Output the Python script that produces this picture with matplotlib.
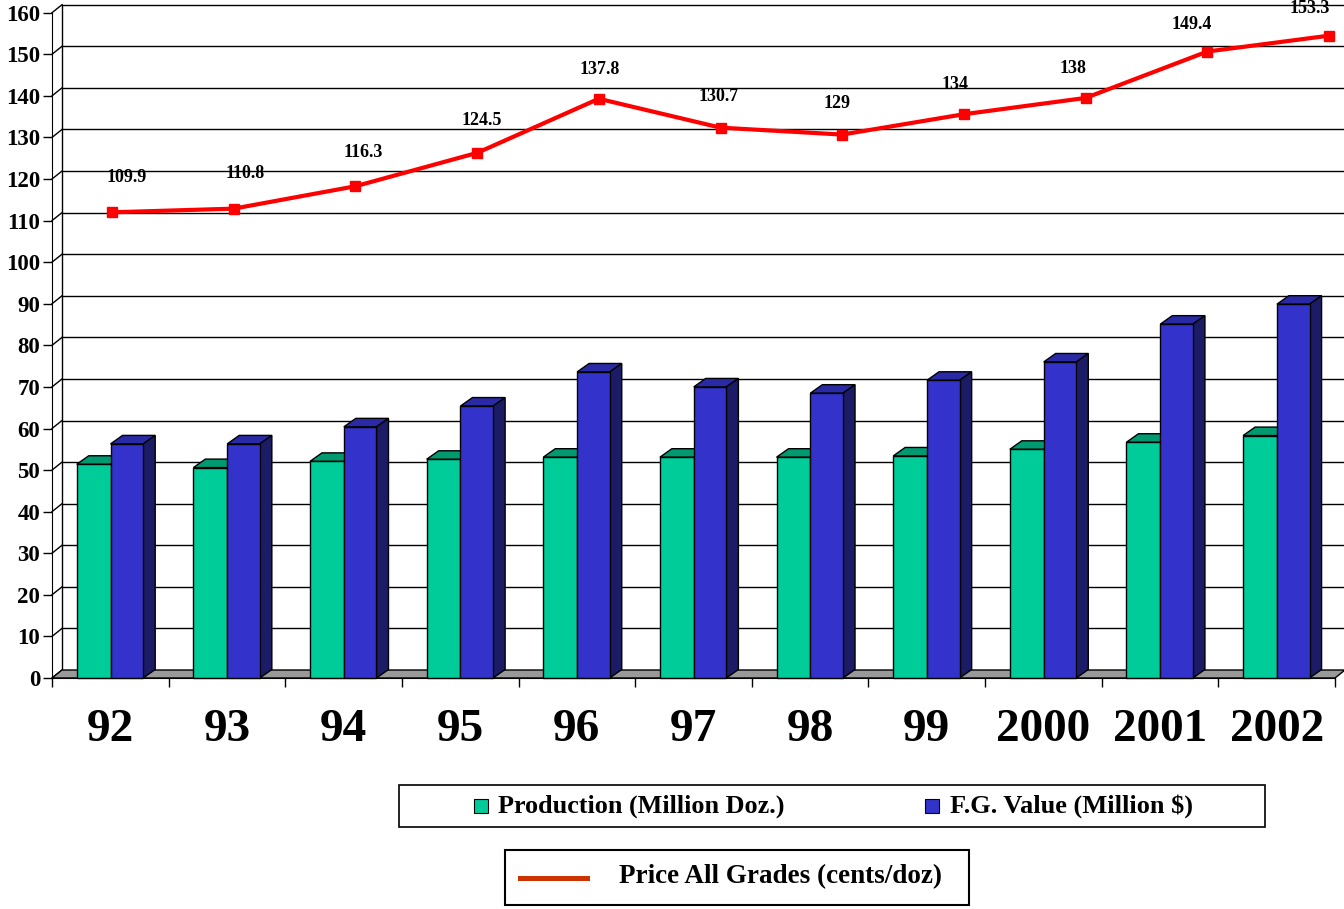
import matplotlib
matplotlib.use('Agg')
import matplotlib.pyplot as plt
from matplotlib.patches import Polygon, Rectangle
from matplotlib.lines import Line2D

years = ['92', '93', '94', '95', '96', '97', '98', '99', '2000', '2001', '2002']
production = [51.4, 50.6, 52.1, 52.6, 53.1, 53.1, 53.1, 53.4, 55.0, 56.7, 58.3]
fg_value = [56.3, 56.3, 60.4, 65.4, 73.6, 70.0, 68.5, 71.6, 76.0, 85.1, 89.9]
price = [109.9, 110.8, 116.3, 124.5, 137.8, 130.7, 129, 134, 138, 149.4, 153.3]
yticks = list(range(0, 161, 10))

W, H = 1344, 909
FONT = 'Liberation Serif'

fig = plt.figure(figsize=(W / 100, H / 100), dpi=100)

# front plane of the pseudo 3d chart
ax = fig.add_axes([52 / W, 1 - 678 / H, 1283 / W, 665.3 / H])
ax.set_xlim(-0.5, 10.5)
ax.set_ylim(0, 160)
pxx = 116.6   # px per category
pxy = 4.158   # px per y unit

# depth offsets (wall / bars) in data units
WDX, WDY = 10 / pxx, 8 / pxy
BDX, BDY = 12 / pxx, 8.5 / pxy

# floor
floor = Polygon([(-0.5, 0), (10.5, 0), (10.5 + WDX, WDY), (-0.5 + WDX, WDY)],
                closed=True, facecolor='#999999', edgecolor='black', lw=1,
                clip_on=False, zorder=1)
ax.add_patch(floor)

# back wall gridlines and connectors
for v in yticks:
    if v > 0:
        ax.plot([-0.5 + WDX, 10.5 + WDX + 0.2], [v + WDY, v + WDY], color='black',
                lw=1, clip_on=False, zorder=0.5)
    ax.plot([-0.5, -0.5 + WDX], [v, v + WDY], color='black', lw=1,
            clip_on=False, zorder=0.5)
ax.plot([-0.5 + WDX, -0.5 + WDX], [WDY, 160 + WDY], color='black', lw=1,
        clip_on=False, zorder=0.5)


def bar3d(xc, width, val, face, top, side):
    x0, x1 = xc - width / 2, xc + width / 2
    ax.add_patch(Rectangle((x0, 0), width, val, facecolor=face, edgecolor='black',
                           lw=1, zorder=3, clip_on=False))
    ax.add_patch(Polygon([(x0, val), (x1, val), (x1 + BDX, val + BDY), (x0 + BDX, val + BDY)],
                         closed=True, facecolor=top, edgecolor='black', lw=1,
                         zorder=2, clip_on=False))
    ax.add_patch(Polygon([(x1, 0), (x1 + BDX, BDY), (x1 + BDX, val + BDY), (x1, val)],
                         closed=True, facecolor=side, edgecolor='black', lw=1,
                         zorder=2, clip_on=False))


for i in range(len(years)):
    bar3d(i - 0.143, 0.29, production[i], '#00CC99', '#009970', '#007F5E')
    bar3d(i + 0.142, 0.28, fg_value[i], '#3333CC', '#2A2AA6', '#1C1C66')
    # later bars drawn on top
    for p in ax.patches[-6:]:
        p.set_zorder(p.get_zorder() + i * 0.01)

for s in ['top', 'right']:
    ax.spines[s].set_visible(False)
ax.spines['left'].set_zorder(4)
ax.spines['bottom'].set_zorder(4)
ax.set_facecolor('none')

ax.set_yticks(yticks)
ax.set_yticklabels([str(v) for v in yticks], fontfamily=FONT, fontweight='bold', fontsize=16.5)
ax.tick_params(axis='y', length=6.5, width=1, pad=2)

ax.set_xticks(range(len(years)))
ax.set_xticklabels(years, fontfamily=FONT, fontweight='bold', fontsize=34)
ax.set_xticks([i - 0.5 for i in range(len(years) + 1)], minor=True)
ax.tick_params(axis='x', which='major', length=0, pad=22)
ax.tick_params(axis='x', which='minor', length=6.5, width=1)

# line overlay
ax2 = fig.add_axes([51.15 / W, 1 - 659.6 / H, 1338.7 / W, 651.2 / H])
ax2.set_xlim(-0.5, 10.5)
ax2.set_ylim(0, 160)
ax2.axis('off')
ax2.plot(range(len(price)), price, color='#FF0000', lw=3, marker='s', markersize=6.5,
         clip_on=False)
for i, v in enumerate(price):
    dy = max(35 - (v - price[0]) * 0.2, 27)
    ax2.annotate(f'{v:g}', (i, v), xytext=(15 - 3.4 * i, dy), textcoords='offset pixels',
                 ha='center', va='center', fontfamily=FONT, fontweight='bold',
                 fontsize=13, annotation_clip=False)


def fx(px):
    return px / W


def fy(py):
    return 1 - py / H


# legend boxes
fig.patches.append(Rectangle((fx(399), fy(827)), fx(866), 42 / H, transform=fig.transFigure,
                             facecolor='white', edgecolor='black', lw=1.2))
fig.patches.append(Rectangle((fx(474), fy(813)), 14 / W, 14 / H, transform=fig.transFigure,
                             facecolor='#00CC99', edgecolor='black', lw=0.8))
fig.text(fx(498), fy(806), 'Production (Million Doz.)', ha='left', va='center',
         fontfamily=FONT, fontweight='bold', fontsize=18.8)
fig.patches.append(Rectangle((fx(925), fy(813)), 14 / W, 14 / H, transform=fig.transFigure,
                             facecolor='#3333CC', edgecolor='black', lw=0.8))
fig.text(fx(950), fy(806), 'F.G. Value (Million $)', ha='left', va='center',
         fontfamily=FONT, fontweight='bold', fontsize=19)

fig.patches.append(Rectangle((fx(505), fy(905)), fx(464), 55 / H, transform=fig.transFigure,
                             facecolor='white', edgecolor='black', lw=1.5))
fig.lines.append(Line2D([fx(520), fx(587)], [fy(878), fy(878)], transform=fig.transFigure,
                        color='#CC3300', lw=3.6))
fig.text(fx(619), fy(877), 'Price All Grades (cents/doz)', ha='left', va='center',
         fontfamily=FONT, fontweight='bold', fontsize=19.5)

fig.savefig('out.png', dpi=100)
